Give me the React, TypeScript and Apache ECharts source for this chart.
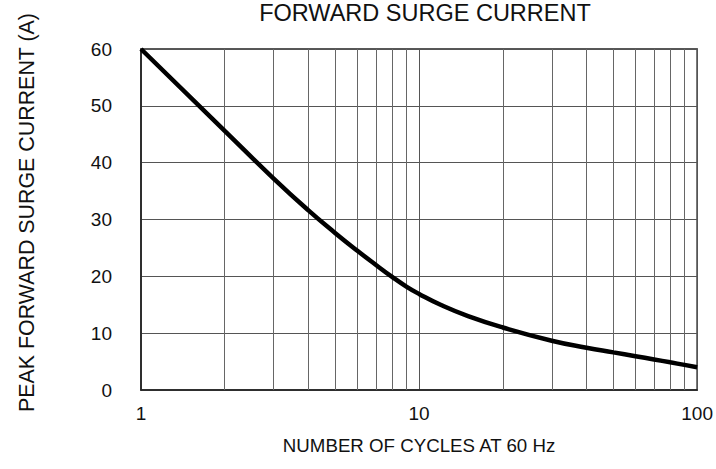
import React, { useEffect, useRef } from "react";
import * as echarts from "echarts";

const cycles = [1, 2, 3, 4, 5, 6, 7, 8, 9, 10, 12, 15, 20, 30, 40, 50, 60, 70, 80, 90, 100];
const current = [60, 45.6, 37.2, 31.6, 27.6, 24.5, 22.0, 19.9, 18.2, 16.9, 14.95, 13.0, 11.0, 8.67, 7.44, 6.62, 5.95, 5.38, 4.87, 4.42, 4.0];
const minorGridX = [2, 3, 4, 5, 6, 7, 8, 9, 20, 30, 40, 50, 60, 70, 80, 90];
const yTicks = { min: 0, max: 60, interval: 10 };
const titleText = "FORWARD SURGE CURRENT";
const xName = "NUMBER OF CYCLES AT 60 Hz";
const yName = "PEAK FORWARD SURGE CURRENT (A)";

const FONT = "'Liberation Sans', Arial, sans-serif";

export default function App() {
  const ref = useRef<HTMLDivElement>(null);
  useEffect(() => {
    if (!ref.current) return;
    const chart = echarts.init(ref.current, undefined, { renderer: "svg" });
    chart.setOption({
      animation: false,
      backgroundColor: "#ffffff",
      title: {
        text: titleText,
        left: 425,
        top: 0,
        padding: 0,
        textAlign: "center",
        textStyle: { fontFamily: FONT, fontSize: 23.5, fontWeight: "normal", color: "#111", lineHeight: 26 },
      },
      grid: {
        left: 141,
        top: 49,
        right: 18,
        bottom: 79,
        show: true,
        borderColor: "#222",
        borderWidth: 1.5,
        backgroundColor: "transparent",
      },
      xAxis: {
        type: "log",
        logBase: 10,
        min: 1,
        max: 100,
        name: xName,
        nameLocation: "middle",
        nameGap: 46,
        nameTextStyle: { fontFamily: FONT, fontSize: 18.7, color: "#111" },
        axisLine: { show: true, lineStyle: { color: "#222", width: 1.5 } },
        axisTick: { show: false },
        axisLabel: { fontFamily: FONT, fontSize: 19, color: "#111", margin: 14 },
        splitLine: { show: true, lineStyle: { color: "#555", width: 1 } },
        minorTick: { show: false },
        minorSplitLine: { show: false },
      },
      yAxis: {
        type: "value",
        min: yTicks.min,
        max: yTicks.max,
        interval: yTicks.interval,
        name: yName,
        nameLocation: "middle",
        nameGap: 104,
        nameRotate: 90,
        nameTextStyle: { fontFamily: FONT, fontSize: 21.4, color: "#111", padding: [0, 0, 0, 14] },
        axisLine: { show: true, lineStyle: { color: "#222", width: 1.5 } },
        axisTick: { show: false },
        axisLabel: { fontFamily: FONT, fontSize: 19, color: "#111", margin: 29 },
        splitLine: { show: true, lineStyle: { color: "#555", width: 1 } },
      },
      series: [
        {
          type: "line",
          data: cycles.map((c, i) => [c, current[i]]),
          smooth: 0.5,
          symbol: "none",
          lineStyle: { color: "#000", width: 4.5 },
          markLine: {
            silent: true,
            symbol: ["none", "none"],
            label: { show: false },
            lineStyle: { color: "#666", width: 1, type: "solid" },
            data: minorGridX.map((v) => ({ xAxis: v })),
            z: 1,
          },
          z: 5,
        },
      ],
    });
    return () => chart.dispose();
  }, []);
  return (
    <div
      ref={ref}
      style={{ position: "fixed", left: 0, top: 0, width: 716, height: 469 }}
    />
  );
}
